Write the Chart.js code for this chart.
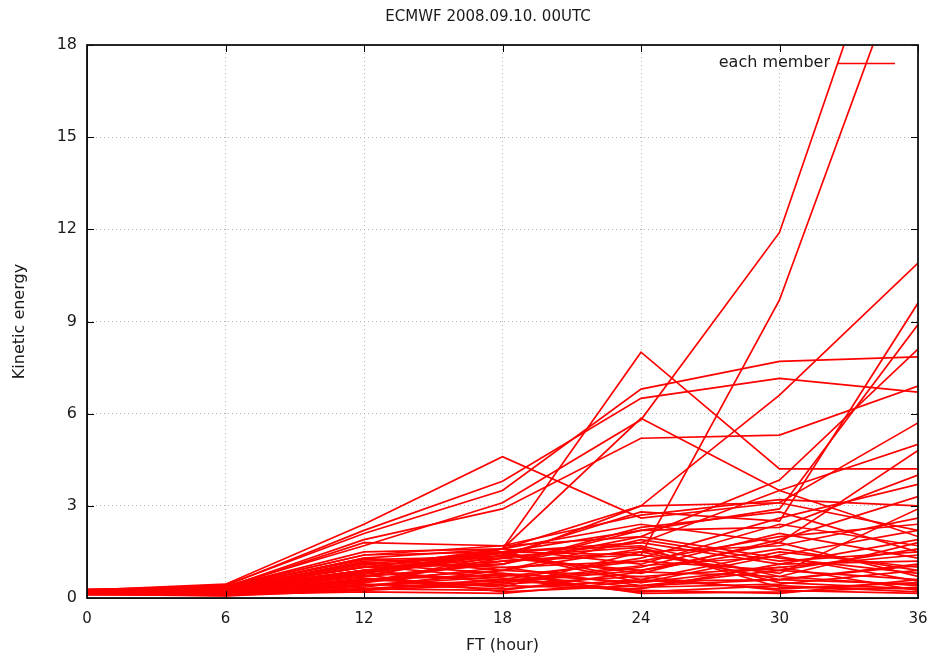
<!DOCTYPE html>
<html>
<head>
<meta charset="utf-8">
<script src="https://cdn.jsdelivr.net/npm/chart.js@4.4.1/dist/chart.umd.min.js"></script>
<style>
html,body{margin:0;padding:0;background:#fff;}
#wrap{width:929px;height:657px;position:relative;}
</style>
</head>
<body>
<div id="wrap"><canvas id="c" width="929" height="657"></canvas></div>
<script>
// ---- data ----
const chartTitle = "ECMWF 2008.09.10. 00UTC";
const seriesLabel = "each member";
const ftHours = [0, 6, 12, 18, 24, 30, 36];
const xTicks = [0, 6, 12, 18, 24, 30, 36];
const yTicks = [0, 3, 6, 9, 12, 15, 18];

const member01 = [0.22, 0.38, 1.7, 3.1, 5.8, 11.9, 25.0];
const member02 = [0.18, 0.32, 0.9, 1.5, 1.4, 9.7, 22.0];
const member03 = [0.20, 0.30, 0.7, 1.6, 8.0, 4.2, 4.2];
const member04 = [0.25, 0.42, 2.1, 3.5, 6.8, 7.7, 7.85];
const member05 = [0.24, 0.40, 2.2, 3.8, 6.5, 7.15, 6.7];
const member06 = [0.26, 0.45, 2.4, 4.6, 2.6, 3.1, 2.2];
const member07 = [0.20, 0.35, 1.9, 2.9, 5.2, 5.3, 6.9];
const member08 = [0.19, 0.30, 1.0, 1.6, 5.85, 3.5, 2.0];
const member09 = [0.20, 0.35, 1.3, 1.6, 3.0, 6.6, 10.9];
const member10 = [0.18, 0.30, 0.8, 1.4, 2.8, 2.5, 9.6];
const member11 = [0.20, 0.32, 1.0, 1.5, 2.2, 2.9, 8.9];
const member12 = [0.22, 0.37, 1.4, 1.7, 2.0, 3.84, 8.1];
const member13 = [0.19, 0.30, 0.9, 1.3, 3.0, 3.1, 5.7];
const member14 = [0.20, 0.33, 1.1, 1.5, 1.8, 3.5, 5.0];
const member15 = [0.18, 0.28, 0.7, 1.1, 2.2, 2.3, 4.0];
const member16 = [0.22, 0.37, 1.5, 1.6, 2.4, 1.8, 4.8];
const member17 = [0.21, 0.34, 1.8, 1.7, 2.7, 3.2, 3.0];
const member18 = [0.25, 0.30, 0.9, 1.2, 1.5, 1.7, 2.6];
const member19 = [0.22, 0.28, 0.6, 0.9, 1.9, 1.2, 1.5];
const member20 = [0.18, 0.25, 0.5, 1.4, 0.8, 1.9, 3.3];
const member21 = [0.15, 0.12, 0.4, 0.7, 1.2, 0.9, 0.6];
const member22 = [0.27, 0.33, 1.1, 0.8, 0.5, 1.4, 2.2];
const member23 = [0.12, 0.10, 0.3, 0.5, 1.0, 2.1, 1.3];
const member24 = [0.20, 0.26, 0.7, 1.5, 1.7, 0.7, 0.4];
const member25 = [0.24, 0.31, 0.8, 0.6, 1.3, 2.6, 3.7];
const member26 = [0.16, 0.15, 0.5, 1.0, 0.4, 0.6, 1.1];
const member27 = [0.23, 0.29, 1.2, 1.3, 0.9, 1.6, 0.9];
const member28 = [0.19, 0.24, 0.6, 0.4, 0.3, 1.1, 1.9];
const member29 = [0.14, 0.11, 0.35, 0.9, 1.6, 0.5, 0.3];
const member30 = [0.26, 0.34, 1.0, 1.1, 2.0, 1.3, 0.8];
const member31 = [0.17, 0.14, 0.45, 0.3, 0.6, 0.3, 0.5];
const member32 = [0.21, 0.27, 0.8, 1.6, 1.1, 2.4, 1.7];
const member33 = [0.13, 0.08, 0.3, 0.6, 0.2, 0.4, 0.2];
const member34 = [0.25, 0.32, 1.3, 0.9, 0.7, 1.0, 1.4];
const member35 = [0.18, 0.20, 0.55, 1.2, 1.4, 0.8, 2.9];
const member36 = [0.22, 0.30, 0.9, 0.5, 0.9, 1.8, 0.7];
const member37 = [0.15, 0.09, 0.4, 0.8, 0.15, 0.2, 0.35];
const member38 = [0.28, 0.36, 1.4, 1.5, 0.6, 1.5, 1.0];
const member39 = [0.20, 0.18, 0.65, 0.35, 1.5, 0.6, 0.45];
const member40 = [0.17, 0.24, 0.5, 1.3, 1.8, 1.1, 1.2];
const member41 = [0.23, 0.29, 0.75, 0.2, 0.4, 0.9, 1.6];
const member42 = [0.12, 0.07, 0.25, 0.45, 0.7, 0.25, 0.15];
const member43 = [0.26, 0.33, 1.15, 1.0, 1.2, 2.0, 2.4];
const member44 = [0.19, 0.16, 0.6, 0.75, 0.35, 0.45, 0.9];
const member45 = [0.21, 0.28, 0.85, 1.45, 0.5, 1.0, 0.25];
const member46 = [0.16, 0.13, 0.42, 0.55, 1.05, 1.35, 0.55];
const member47 = [0.24, 0.31, 1.05, 0.65, 0.25, 0.15, 0.6];
const member48 = [0.14, 0.10, 0.3, 0.25, 0.85, 0.7, 1.8];
const member49 = [0.27, 0.35, 1.25, 1.35, 1.65, 0.35, 0.3];
const member50 = [0.20, 0.22, 0.7, 1.1, 2.3, 2.8, 1.5];
const member51 = [0.10, 0.12, 0.2, 0.15, 0.55, 0.6, 1.05];

const members = [member01, member02, member03, member04, member05, member06, member07, member08, member09, member10,
  member11, member12, member13, member14, member15, member16, member17, member18, member19, member20,
  member21, member22, member23, member24, member25, member26, member27, member28, member29, member30,
  member31, member32, member33, member34, member35, member36, member37, member38, member39, member40,
  member41, member42, member43, member44, member45, member46, member47, member48, member49, member50, member51];

// ---- chart ----
const FONT = "'DejaVu Sans', 'Liberation Sans', Arial, sans-serif";
const TXT = '#1a1a1a';
const RED = '#ff0000';

const datasets = members.map((m, k) => ({
  label: k === 0 ? seriesLabel : seriesLabel + ' ' + (k + 1),
  data: m.map((v, i) => ({x: ftHours[i], y: v})),
  borderColor: RED,
  borderWidth: 1.7,
  pointRadius: 0,
  tension: 0,
  fill: false
}));

const gnuplotDecor = {
  id: 'gnuplotDecor',
  afterDraw(chart) {
    const {ctx, chartArea: a, scales} = chart;
    ctx.save();
    // title
    ctx.fillStyle = TXT;
    ctx.font = '15px ' + FONT;
    ctx.textAlign = 'center';
    ctx.textBaseline = 'middle';
    ctx.fillText(chartTitle, 488, 17);
    // tick marks (inward, mirrored)
    ctx.strokeStyle = '#000';
    ctx.lineWidth = 1;
    const tl = 7;
    xTicks.forEach(t => {
      const x = Math.round(scales.x.getPixelForValue(t)) + 0.5;
      ctx.beginPath();
      ctx.moveTo(x, a.bottom); ctx.lineTo(x, a.bottom - tl);
      ctx.moveTo(x, a.top); ctx.lineTo(x, a.top + tl);
      ctx.stroke();
    });
    yTicks.forEach(t => {
      const y = Math.round(scales.y.getPixelForValue(t)) + 0.5;
      ctx.beginPath();
      ctx.moveTo(a.left, y); ctx.lineTo(a.left + tl, y);
      ctx.moveTo(a.right, y); ctx.lineTo(a.right - tl, y);
      ctx.stroke();
    });
    // border
    ctx.lineWidth = 1.8;
    ctx.strokeStyle = '#111';
    ctx.strokeRect(a.left, a.top, a.right - a.left, a.bottom - a.top);
    // legend
    ctx.fillStyle = TXT;
    ctx.font = '16px ' + FONT;
    ctx.textAlign = 'right';
    ctx.fillText(seriesLabel, 830, 63);
    ctx.strokeStyle = RED;
    ctx.lineWidth = 1.7;
    ctx.beginPath();
    ctx.moveTo(838, 63.5); ctx.lineTo(895, 63.5);
    ctx.stroke();
    ctx.restore();
  }
};

new Chart(document.getElementById('c'), {
  type: 'line',
  data: {datasets},
  options: {
    responsive: false,
    animation: false,
    devicePixelRatio: 1,
    layout: {padding: {left: 0, right: 11, top: 45, bottom: 0}},
    plugins: {legend: {display: false}, title: {display: false}, tooltip: {enabled: false}},
    scales: {
      x: {
        type: 'linear', min: 0, max: 36,
        afterBuildTicks(s) { s.ticks = xTicks.map(v => ({value: v})); },
        afterFit(s) { s.height = 59; s.paddingLeft = 0; s.paddingRight = 0; },
        ticks: {color: TXT, font: {family: FONT, size: 15}, padding: 12, maxRotation: 0},
        grid: {color: '#b0b0b0', lineWidth: 1, drawTicks: false},
        border: {display: true, color: '#111', dash: [1, 3]},
        title: {display: true, text: 'FT (hour)', color: TXT, font: {family: FONT, size: 16}, padding: {top: 0, bottom: 2}}
      },
      y: {
        type: 'linear', min: 0, max: 18,
        afterBuildTicks(s) { s.ticks = yTicks.map(v => ({value: v})); },
        afterFit(s) { s.width = 87; s.paddingTop = 0; s.paddingBottom = 0; },
        ticks: {color: TXT, font: {family: FONT, size: 16}, padding: 10},
        grid: {color: '#b0b0b0', lineWidth: 1, drawTicks: false},
        border: {display: true, color: '#111', dash: [1, 3]},
        title: {display: true, text: 'Kinetic energy', color: TXT, font: {family: FONT, size: 16}, padding: {top: 10, bottom: 0}}
      }
    }
  },
  plugins: [gnuplotDecor]
});
</script>
</body>
</html>
